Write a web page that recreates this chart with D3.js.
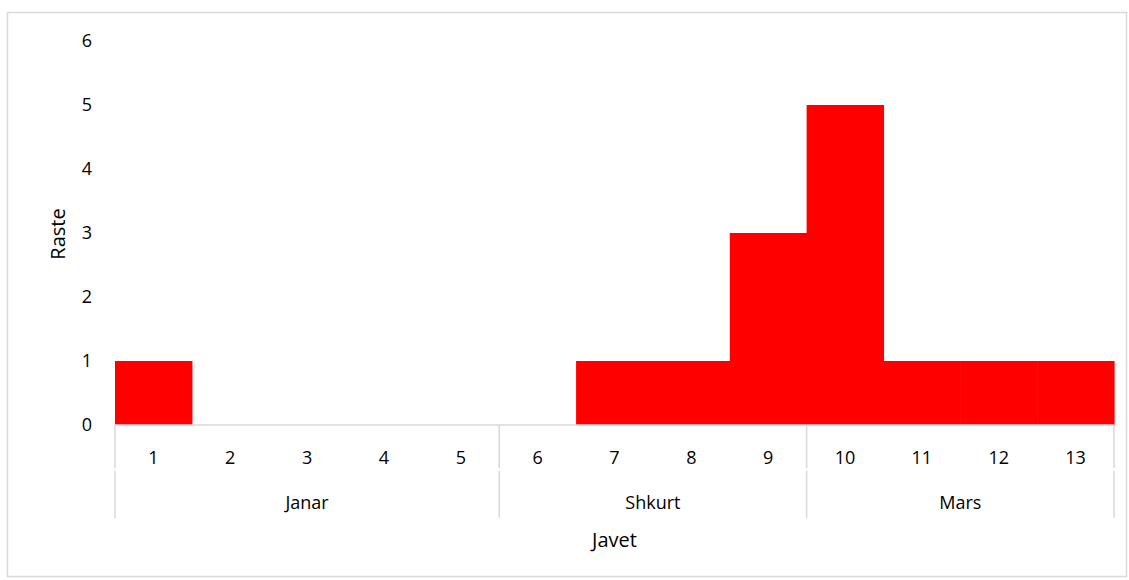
<!DOCTYPE html>
<html>
<head>
<meta charset="utf-8">
<script src="https://cdn.jsdelivr.net/npm/d3@7"></script>
<style>
  body { margin: 0; background: #fff; }
  text { font-family: "Open Sans", "Noto Sans", sans-serif; fill: #000; }
</style>
</head>
<body>
<div id="chart"></div>
<script>
// categories (week numbers) and counts
const weeks = ['1','2','3','4','5','6','7','8','9','10','11','12','13'];
const cases = [1, 0, 0, 0, 0, 0, 1, 1, 3, 5, 1, 1, 1];
// month groups: label, first week, last week
const months = [
  {name: 'Janar', from: '1', to: '5'},
  {name: 'Shkurt', from: '6', to: '9'},
  {name: 'Mars', from: '10', to: '13'}
];
const yTicks = [0, 1, 2, 3, 4, 5, 6];
const xTitle = 'Javet';
const yTitle = 'Raste';

const config = {
  width: 1129,
  height: 580,
  margin: {top: 41, right: 15, bottom: 155, left: 115}
};

const svg = d3.select('#chart').append('svg')
    .attr('width', config.width)
    .attr('height', config.height);

// outer border
svg.append('rect')
    .attr('x', 7.5).attr('y', 12.5)
    .attr('width', config.width - 10).attr('height', config.height - 16)
    .attr('fill', 'none')
    .attr('stroke', '#d9d9d9')
    .attr('stroke-width', 1.5);

const innerW = config.width - config.margin.left - config.margin.right;
const innerH = config.height - config.margin.top - config.margin.bottom;

const chart = svg.append('g')
    .attr('transform', `translate(${config.margin.left},${config.margin.top})`);

const x = d3.scaleBand().domain(weeks).range([0, innerW]).padding(0);
const y = d3.scaleLinear().domain([0, 6]).range([innerH, 0]);

// bars (slight overlap so adjacent bars show no seam)
chart.selectAll('.bar')
    .data(weeks.map((w, i) => ({week: w, value: cases[i]})))
  .join('rect')
    .attr('class', 'bar')
    .attr('x', d => x(d.week))
    .attr('y', d => y(d.value))
    .attr('width', x.bandwidth() + 0.6)
    .attr('height', d => innerH - y(d.value))
    .attr('fill', '#ff0000');

// y axis labels (no line)
chart.selectAll('.ytick')
    .data(yTicks)
  .join('text')
    .attr('class', 'ytick')
    .attr('x', -23)
    .attr('y', d => y(d))
    .attr('dy', '0.35em')
    .attr('text-anchor', 'end')
    .style('font-size', '18px')
    .text(d => d);

// x axis baseline
const axisColor = '#d9d9d9';
chart.append('line')
    .attr('x1', 0).attr('x2', innerW)
    .attr('y1', innerH).attr('y2', innerH)
    .attr('stroke', axisColor).attr('stroke-width', 1.5);

// week labels
chart.selectAll('.xtick')
    .data(weeks)
  .join('text')
    .attr('class', 'xtick')
    .attr('x', d => x(d) + x.bandwidth() / 2)
    .attr('y', innerH + 33)
    .attr('dy', '0.35em')
    .attr('text-anchor', 'middle')
    .style('font-size', '18px')
    .text(d => d);

// group separators (two levels)
const boundaries = [0].concat(months.map(m => x(m.to) + x.bandwidth()));
boundaries.forEach(bx => {
  chart.append('line')
      .attr('x1', bx).attr('x2', bx)
      .attr('y1', innerH).attr('y2', innerH + 43)
      .attr('stroke', axisColor).attr('stroke-width', 1.5);
  chart.append('line')
      .attr('x1', bx).attr('x2', bx)
      .attr('y1', innerH + 46).attr('y2', innerH + 93)
      .attr('stroke', axisColor).attr('stroke-width', 1.5);
});

// month labels
chart.selectAll('.month')
    .data(months)
  .join('text')
    .attr('class', 'month')
    .attr('x', d => (x(d.from) + x(d.to) + x.bandwidth()) / 2)
    .attr('y', innerH + 78)
    .attr('dy', '0.35em')
    .attr('text-anchor', 'middle')
    .style('font-size', '18px')
    .text(d => d.name);

// axis titles
svg.append('text')
    .attr('x', config.margin.left + innerW / 2)
    .attr('y', 540)
    .attr('dy', '0.35em')
    .attr('text-anchor', 'middle')
    .style('font-size', '20px')
    .text(xTitle);

svg.append('text')
    .attr('transform', `translate(58,${config.margin.top + innerH / 2 + 1}) rotate(-90)`)
    .attr('dy', '0.35em')
    .attr('text-anchor', 'middle')
    .style('font-size', '20px')
    .text(yTitle);
</script>
</body>
</html>
